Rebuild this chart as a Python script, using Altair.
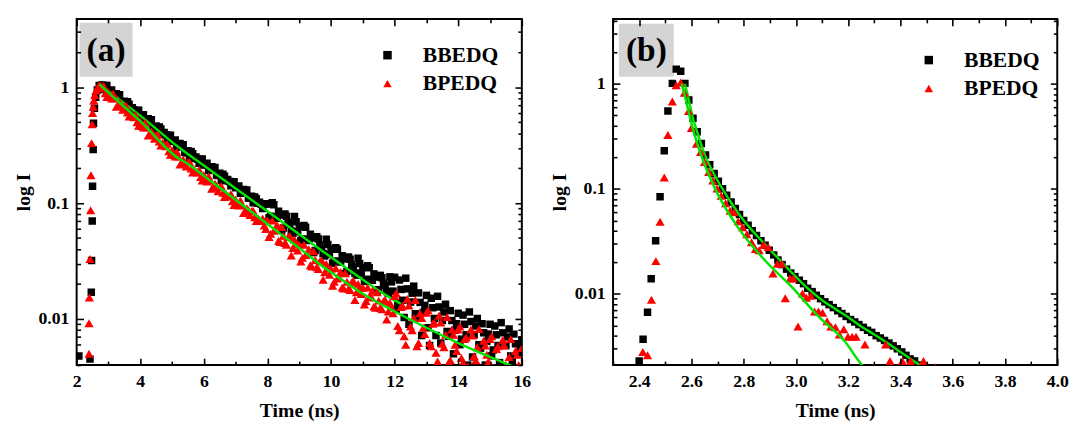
import altair as alt
import pandas as pd

# ---------------- panel (a) data ----------------
a_rise_bb_t = [2.07, 2.42, 2.46, 2.47, 2.49, 2.50, 2.52, 2.53, 2.56, 2.60, 2.65, 2.71]
a_rise_bb_i = [0.0048, 0.0045, 0.017, 0.032, 0.07, 0.14, 0.29, 0.49, 0.66, 0.82, 0.95, 1.04]
a_rise_bp_t = [2.39, 2.39, 2.40, 2.42, 2.44, 2.45, 2.47, 2.49, 2.50, 2.52, 2.54, 2.57, 2.61, 2.66, 2.71, 2.75]
a_rise_bp_i = [0.005, 0.0092, 0.0153, 0.033, 0.087, 0.174, 0.33, 0.48, 0.60, 0.68, 0.77, 0.86, 0.94, 1.0, 1.04, 1.03]

a_t = [2.8, 2.9, 3.0, 3.1, 3.2, 3.3, 3.4, 3.5, 3.6, 3.7,
       3.8, 3.9, 4.0, 4.1, 4.2, 4.3, 4.4, 4.5, 4.6, 4.7,
       4.8, 4.9, 5.0, 5.1, 5.2, 5.3, 5.4, 5.5, 5.6, 5.7,
       5.8, 5.9, 6.0, 6.1, 6.2, 6.3, 6.4, 6.5, 6.6, 6.7,
       6.8, 6.9, 7.0, 7.1, 7.2, 7.3, 7.4, 7.5, 7.6, 7.7,
       7.8, 7.9, 8.0, 8.1, 8.2, 8.3, 8.4, 8.5, 8.6, 8.7,
       8.8, 8.9, 9.0, 9.1, 9.2, 9.3, 9.4, 9.5, 9.6, 9.7,
       9.8, 9.9, 10.0, 10.1, 10.2, 10.3, 10.4, 10.5, 10.6, 10.7,
       10.8, 10.9, 11.0, 11.1, 11.2, 11.3, 11.4, 11.5, 11.6, 11.7,
       11.8, 11.9, 12.0, 12.1, 12.2, 12.3, 12.4, 12.5, 12.6, 12.7,
       12.8, 12.9, 13.0, 13.1, 13.2, 13.3, 13.4, 13.5, 13.6, 13.7,
       13.8, 13.9, 14.0, 14.1, 14.2, 14.3, 14.4, 14.5, 14.6, 14.7,
       14.8, 14.9, 15.0, 15.1, 15.2, 15.3, 15.4, 15.5, 15.6, 15.7,
       15.8, 15.9, 16.0]
a_t2 = [2.85, 2.95, 3.05, 3.15, 3.25, 3.35, 3.45, 3.55, 3.65, 3.75,
        3.85, 3.95, 4.05, 4.15, 4.25, 4.35, 4.45, 4.55, 4.65, 4.75,
        4.85, 4.95, 5.05, 5.15, 5.25, 5.35, 5.45, 5.55, 5.65, 5.75,
        5.85, 5.95, 6.05, 6.15, 6.25, 6.35, 6.45, 6.55, 6.65, 6.75,
        6.85, 6.95, 7.05, 7.15, 7.25, 7.35, 7.45, 7.55, 7.65, 7.75,
        7.85, 7.95, 8.05, 8.15, 8.25, 8.35, 8.45, 8.55, 8.65, 8.75,
        8.85, 8.95, 9.05, 9.15, 9.25, 9.35, 9.45, 9.55, 9.65, 9.75,
        9.85, 9.95, 10.05, 10.15, 10.25, 10.35, 10.45, 10.55, 10.65, 10.75,
        10.85, 10.95, 11.05, 11.15, 11.25, 11.35, 11.45, 11.55, 11.65, 11.75,
        11.85, 11.95, 12.05, 12.15, 12.25, 12.35, 12.45, 12.55, 12.65, 12.75,
        12.85, 12.95, 13.05, 13.15, 13.25, 13.35, 13.45, 13.55, 13.65, 13.75,
        13.85, 13.95, 14.05, 14.15, 14.25, 14.35, 14.45, 14.55, 14.65, 14.75,
        14.85, 14.95, 15.05, 15.15, 15.25, 15.35, 15.45, 15.55, 15.65, 15.75,
        15.85, 15.95]

a_bb = [1.05, 1.04, 0.92, 0.95, 0.84, 0.83, 0.74, 0.76, 0.75, 0.65,
        0.64, 0.63, 0.56, 0.58, 0.51, 0.51, 0.45, 0.465, 0.455, 0.397,
        0.389, 0.385, 0.341, 0.352, 0.313, 0.310, 0.275, 0.283, 0.279, 0.243,
        0.240, 0.239, 0.213, 0.221, 0.197, 0.196, 0.175, 0.181, 0.178, 0.156,
        0.154, 0.153, 0.136, 0.141, 0.125, 0.125, 0.111, 0.115, 0.113, 0.100,
        0.098, 0.098, 0.099, 0.077, 0.097, 0.074, 0.079, 0.061, 0.077, 0.066,
        0.055, 0.069, 0.063, 0.049, 0.062, 0.0475, 0.050, 0.039, 0.049, 0.0417,
        0.035, 0.044, 0.040, 0.0316, 0.040, 0.031, 0.033, 0.0258, 0.0328, 0.0282,
        0.0239, 0.0301, 0.0278, 0.022, 0.0277, 0.0216, 0.023, 0.0179, 0.0227, 0.0196,
        0.0166, 0.0209, 0.0229, 0.0136, 0.018, 0.0103, 0.0182, 0.014, 0.0192, 0.0103,
        0.0139, 0.0114, 0.016, 0.0059, 0.0125, 0.0072, 0.0127, 0.0097, 0.0134, 0.0071,
        0.0097, 0.008, 0.0112, 0.0067, 0.009, 0.004, 0.0095, 0.0073, 0.0101, 0.0056,
        0.0076, 0.0064, 0.009, 0.0054, 0.0073, 0.0042, 0.0076, 0.0059, 0.0082, 0.0044,
        0.0061, 0.0051, 0.0066]
a_bb2 = [0.96, 1.04, 0.925, 0.819, 0.880, 0.862, 0.729, 0.664, 0.716, 0.668,
         0.585, 0.633, 0.564, 0.499, 0.537, 0.525, 0.444, 0.405, 0.436, 0.407,
         0.357, 0.386, 0.343, 0.304, 0.327, 0.320, 0.271, 0.247, 0.267, 0.251,
         0.221, 0.241, 0.215, 0.191, 0.206, 0.203, 0.173, 0.158, 0.171, 0.160,
         0.141, 0.153, 0.137, 0.122, 0.131, 0.130, 0.110, 0.101, 0.109, 0.102,
         0.090, 0.098, 0.075, 0.101, 0.076, 0.085, 0.058, 0.0805, 0.068, 0.0576,
         0.0769, 0.0567, 0.0476, 0.0642, 0.0485, 0.0539, 0.0374, 0.0514, 0.0436, 0.0367,
         0.0488, 0.0361, 0.0303, 0.0413, 0.0315, 0.0352, 0.0247, 0.0343, 0.0293, 0.0249,
         0.0334, 0.0249, 0.0211, 0.0288, 0.0219, 0.0245, 0.0172, 0.0238, 0.0204, 0.0173,
         0.0231, 0.0174, 0.0121, 0.0217, 0.0145, 0.0225, 0.009, 0.0167, 0.0111, 0.0168,
         0.0072, 0.0131, 0.0084, 0.0151, 0.0101, 0.0157, 0.0062, 0.0115, 0.0078, 0.0118,
         0.005, 0.0091, 0.006, 0.0108, 0.0073, 0.0115, 0.0047, 0.0087, 0.006, 0.0091,
         0.004, 0.0074, 0.0048, 0.0087, 0.0059, 0.0093, 0.0038, 0.007, 0.0048, 0.0074,
         0.0031, 0.0059]

a_bp = [0.980, 0.888, 0.908, 0.800, 0.802, 0.698, 0.708, 0.688, 0.607, 0.590,
        0.551, 0.500, 0.511, 0.450, 0.451, 0.393, 0.398, 0.387, 0.341, 0.332,
        0.310, 0.281, 0.287, 0.253, 0.253, 0.222, 0.227, 0.224, 0.199, 0.195,
        0.184, 0.168, 0.174, 0.154, 0.157, 0.138, 0.141, 0.138, 0.123, 0.120,
        0.114, 0.104, 0.107, 0.0954, 0.0964, 0.0847, 0.0867, 0.0851, 0.0757, 0.0742,
        0.0701, 0.064, 0.0712, 0.0545, 0.0577, 0.0649, 0.0461, 0.0524, 0.0438, 0.0521,
        0.041, 0.0445, 0.0439, 0.0337, 0.0356, 0.040, 0.0284, 0.0323, 0.027, 0.0322,
        0.0253, 0.0274, 0.0271, 0.021, 0.0224, 0.0255, 0.0183, 0.021, 0.0178, 0.0214,
        0.017, 0.0186, 0.0186, 0.0143, 0.0153, 0.0175, 0.0125, 0.0144, 0.0121, 0.0146,
        0.0116, 0.0127, 0.0158, 0.0087, 0.0127, 0.0071, 0.0149, 0.0086, 0.0102, 0.0058,
        0.0112, 0.0084, 0.0113, 0.0062, 0.0091, 0.0051, 0.0107, 0.0061, 0.0073, 0.0042,
        0.0081, 0.0060, 0.0081, 0.0046, 0.0067, 0.0039, 0.0081, 0.0048, 0.0057, 0.0033,
        0.0065, 0.0049, 0.0067, 0.0038, 0.0055, 0.0032, 0.0066, 0.0040, 0.0047, 0.0027,
        0.0053, 0.0040, 0.0056]
a_bp2 = [1.03, 0.827, 0.824, 0.882, 0.681, 0.743, 0.640, 0.694, 0.559, 0.567,
         0.578, 0.466, 0.463, 0.496, 0.383, 0.418, 0.360, 0.390, 0.314, 0.319,
         0.325, 0.262, 0.260, 0.278, 0.216, 0.237, 0.207, 0.227, 0.184, 0.188,
         0.194, 0.157, 0.158, 0.171, 0.133, 0.147, 0.127, 0.140, 0.113, 0.116,
         0.120, 0.0966, 0.098, 0.1055, 0.0823, 0.0906, 0.0789, 0.0862, 0.070, 0.0718,
         0.0739, 0.0599, 0.0509, 0.0709, 0.0591, 0.0473, 0.0623, 0.0453, 0.051, 0.0354,
         0.0485, 0.039, 0.0314, 0.0438, 0.0364, 0.0291, 0.0384, 0.0279, 0.0315, 0.0218,
         0.0299, 0.0241, 0.0194, 0.0274, 0.0231, 0.0187, 0.0249, 0.0182, 0.0208, 0.0146,
         0.0201, 0.0164, 0.0133, 0.0187, 0.0158, 0.0128, 0.017, 0.0125, 0.0142, 0.0099,
         0.0138, 0.0112, 0.0167, 0.008, 0.013, 0.006, 0.0131, 0.008, 0.0146, 0.0062,
         0.0102, 0.0074, 0.0119, 0.0058, 0.0093, 0.0043, 0.0093, 0.0057, 0.0104, 0.0044,
         0.0073, 0.0053, 0.0086, 0.0042, 0.0069, 0.0032, 0.0072, 0.0044, 0.0082, 0.0035,
         0.0059, 0.0043, 0.0071, 0.0035, 0.0058, 0.0027, 0.0059, 0.0037, 0.0067, 0.0029,
         0.0049, 0.0036]

a_fit1_t = [2.75, 3.0, 4.0, 5.2, 6.0, 7.0, 8.0, 9.0, 9.85, 10.37, 11.0, 11.8, 12.2]
a_fit1_i = [1.06, 0.93, 0.57, 0.305, 0.211, 0.134, 0.085, 0.054, 0.0365, 0.029, 0.0218, 0.0156, 0.0135]
a_fit2_t = [2.72, 3.0, 4.0, 5.2, 5.5, 6.0, 7.0, 8.0, 9.0, 9.85, 10.26, 11.0, 12.0, 13.0, 14.0, 15.0, 15.8]
a_fit2_i = [1.06, 0.90, 0.51, 0.244, 0.218, 0.172, 0.107, 0.066, 0.041, 0.027, 0.0226, 0.0165, 0.0116, 0.0084, 0.0062, 0.0047, 0.0038]

# ---------------- panel (b) data ----------------
b_bb_t = [2.400, 2.415, 2.432, 2.446, 2.463, 2.480, 2.496, 2.510, 2.527, 2.542, 2.559,
          2.575, 2.590, 2.606, 2.622, 2.638, 2.654, 2.670, 2.687, 2.703, 2.719,
          2.735, 2.752, 2.768, 2.784, 2.800, 2.817, 2.833, 2.849, 2.866, 2.882,
          2.898, 2.915, 2.931, 2.947, 2.964, 2.980, 2.996, 3.013, 3.029, 3.045,
          3.062, 3.078, 3.094, 3.111, 3.127, 3.143, 3.160, 3.176, 3.192, 3.209,
          3.225, 3.241, 3.258, 3.274, 3.290, 3.307, 3.323, 3.339, 3.356, 3.372,
          3.388, 3.405, 3.421, 3.437, 3.454, 3.470, 3.486, 3.503]
b_bb_i = [0.0023, 0.0037, 0.0067, 0.0139, 0.032, 0.084, 0.23, 0.55, 1.01, 1.38, 1.32,
          1.01, 0.70, 0.47, 0.35, 0.27, 0.21, 0.17, 0.14, 0.118, 0.10,
          0.087, 0.075, 0.065, 0.057, 0.050, 0.045, 0.040, 0.036, 0.032, 0.029,
          0.026, 0.0235, 0.021, 0.019, 0.0172, 0.0158, 0.0146, 0.0135, 0.0125, 0.0113,
          0.0105, 0.0097, 0.0090, 0.0084, 0.0079, 0.0074, 0.0069, 0.0065, 0.0061, 0.0057,
          0.0054, 0.0051, 0.0048, 0.0045, 0.0043, 0.0040, 0.0038, 0.0036, 0.0034, 0.0032,
          0.0030, 0.0028, 0.0026, 0.0024, 0.0023, 0.0021, 0.0020, 0.0019]

b_bp_t = [2.414, 2.432, 2.447, 2.464, 2.480, 2.496, 2.510, 2.527, 2.542, 2.559,
          2.573, 2.589, 2.600, 2.619, 2.635, 2.650, 2.666, 2.682, 2.698, 2.714,
          2.731, 2.748, 2.763, 2.779, 2.796, 2.812, 2.830, 2.845, 2.859, 2.876,
          2.894, 2.912, 2.929, 2.945, 2.959, 2.977, 2.990, 3.008, 3.025, 3.040,
          3.057, 3.071, 3.086, 3.102, 3.119, 3.134, 3.151, 3.166, 3.183, 3.199,
          3.215, 3.230, 3.264, 3.296, 3.343, 3.360, 3.407, 3.439, 3.488, 3.533]
b_bp_i = [0.0028, 0.0026, 0.0088, 0.0205, 0.0487, 0.128, 0.325, 0.68, 0.97, 1.03,
          0.82, 0.55, 0.38, 0.268, 0.224, 0.18, 0.145, 0.12, 0.101, 0.086,
          0.073, 0.062, 0.060, 0.049, 0.043, 0.037, 0.031, 0.0268, 0.026, 0.0294,
          0.028, 0.0156, 0.0194, 0.0194, 0.0091, 0.014, 0.014, 0.0049, 0.0101, 0.0092,
          0.0096, 0.0068, 0.0068, 0.0066, 0.0055, 0.0049, 0.0048, 0.0041, 0.0046, 0.0039,
          0.0039, 0.0039, 0.0033, 0.0020, 0.0033, 0.0023, 0.0023, 0.0023, 0.0023, 0.0020]

b_fit1_t = [2.575, 2.590, 2.605, 2.620, 2.650, 2.700, 2.750, 2.800, 2.850, 2.900, 2.950,
            3.000, 3.050, 3.100, 3.150, 3.200, 3.250, 3.300, 3.350, 3.400, 3.450, 3.490]
b_fit1_i = [1.0, 0.70, 0.48, 0.36, 0.215, 0.12, 0.075, 0.05, 0.036, 0.0265, 0.0195,
            0.0145, 0.011, 0.0087, 0.0072, 0.006, 0.0049, 0.0041, 0.0034, 0.0028, 0.0023, 0.0020]
b_fit2_t = [2.563, 2.580, 2.600, 2.637, 2.700, 2.778, 2.880, 2.983, 3.086, 3.188, 3.253, 3.270]
b_fit2_i = [1.0, 0.68, 0.42, 0.21, 0.09, 0.043, 0.021, 0.0117, 0.0061, 0.0035, 0.0021, 0.0019]

series = ["BBEDQ", "BPEDQ"]

# ---------------- tick values / labels ----------------
a_x_labels = [2, 4, 6, 8, 10, 12, 14, 16]
a_x_ticks = [2, 3, 4, 5, 6, 7, 8, 9, 10, 11, 12, 13, 14, 15, 16]
a_y_ticks = [0.004, 0.005, 0.006, 0.007, 0.008, 0.009,
             0.01, 0.02, 0.03, 0.04, 0.05, 0.06, 0.07, 0.08, 0.09,
             0.1, 0.2, 0.3, 0.4, 0.5, 0.6, 0.7, 0.8, 0.9, 1, 2, 3]
b_x_labels = [2.4, 2.6, 2.8, 3.0, 3.2, 3.4, 3.6, 3.8, 4.0]
b_x_ticks = [2.3, 2.4, 2.5, 2.6, 2.7, 2.8, 2.9, 3.0, 3.1, 3.2, 3.3, 3.4, 3.5, 3.6, 3.7, 3.8, 3.9, 4.0]
b_y_ticks = [0.003, 0.004, 0.005, 0.006, 0.007, 0.008, 0.009,
             0.01, 0.02, 0.03, 0.04, 0.05, 0.06, 0.07, 0.08, 0.09,
             0.1, 0.2, 0.3, 0.4, 0.5, 0.6, 0.7, 0.8, 0.9, 1, 2, 3, 4]
y_labels = [0.01, 0.1, 1]

FONT = "Liberation Serif"
GREEN = "#00e400"
LOG_MAJOR = "abs(log(datum.value)/LN10 - round(log(datum.value)/LN10)) < 0.001"


def panel(bb_t, bb_i, bp_t, bp_i, f1_t, f1_i, f2_t, f2_i, xdom, ydom,
          xlabels, xfmt, xticks, xmajor, yticks, W, H, leg_x, leg_y, tag, box, spacer):
    df_bb = pd.DataFrame({"t": bb_t, "I": bb_i, "s": series[0]})
    df_bp = pd.DataFrame({"t": bp_t, "I": bp_i, "s": series[1]})
    df_f1 = pd.DataFrame({"t": f1_t, "I": f1_i})
    df_f2 = pd.DataFrame({"t": f2_t, "I": f2_i})
    df_tag = pd.DataFrame({"tag": [tag]})

    xs = alt.Scale(domain=xdom, nice=False, zero=False)
    ys = alt.Scale(type="log", domain=ydom, nice=False)
    cs = alt.Scale(domain=series, range=["#000000", "#ff0000"])
    ss = alt.Scale(domain=series, range=["square", "triangle-up"])
    leg = alt.Legend(orient="none", legendX=leg_x, legendY=leg_y, title=None,
                     labelFont=FONT, labelFontSize=22, labelFontWeight="bold",
                     labelColor="black", symbolSize=75, symbolStrokeWidth=0,
                     rowPadding=7, labelOffset=25, padding=0)

    ax_x = alt.Axis(values=xlabels, format=xfmt, ticks=False, domain=False, grid=False,
                    labelPadding=8, title="Time (ns)", titlePadding=10, labelFlush=False)
    ax_y = alt.Axis(values=y_labels, format=".2~f", ticks=False, domain=False, grid=False,
                    labelPadding=8, title="log I", titlePadding=5)
    xtick = {"condition": {"test": xmajor, "value": 7}, "value": 4}
    ytick = {"condition": {"test": LOG_MAJOR, "value": 7}, "value": 4}
    common = dict(labels=False, domain=False, grid=False, title=None,
                  tickWidth=1.6, tickColor="black", zindex=2)
    ax_in_b = alt.Axis(orient="top", offset=-H, values=xticks, tickSize=xtick, **common)
    ax_in_t = alt.Axis(orient="bottom", offset=-H, values=xticks, tickSize=xtick, **common)
    ax_in_l = alt.Axis(orient="right", offset=-W, values=yticks, tickSize=ytick, **common)
    ax_in_r = alt.Axis(orient="left", offset=-W, values=yticks, tickSize=ytick, **common)

    boxl = alt.Chart(df_tag).mark_rect(color="#d4d4d4").encode(
        x=alt.value(box[0]), x2=alt.value(box[1]), y=alt.value(box[2]), y2=alt.value(box[3]))
    txt = alt.Chart(df_tag).mark_text(font=FONT, fontSize=34, fontWeight="bold",
                                      color="black", baseline="middle").encode(
        x=alt.value((box[0] + box[1]) / 2), y=alt.value((box[2] + box[3]) / 2 + 1), text="tag:N")

    pts_bb = alt.Chart(df_bb).mark_point(filled=True, size=58, opacity=1, clip=True).encode(
        x=alt.X("t:Q", scale=xs, axis=ax_x),
        y=alt.Y("I:Q", scale=ys, axis=ax_y),
        color=alt.Color("s:N", scale=cs, legend=leg),
        shape=alt.Shape("s:N", scale=ss, legend=leg))
    fit1 = alt.Chart(df_f1).mark_line(color=GREEN, strokeWidth=2.5, clip=True,
                                      interpolate="monotone").encode(
        x=alt.X("t:Q", scale=xs, axis=ax_in_b),
        y=alt.Y("I:Q", scale=ys, axis=ax_in_l))
    pts_bp = alt.Chart(df_bp).mark_point(filled=True, size=88, opacity=1, clip=True).encode(
        x=alt.X("t:Q", scale=xs, axis=ax_in_t),
        y=alt.Y("I:Q", scale=ys, axis=ax_in_r),
        color=alt.Color("s:N", scale=cs, legend=leg),
        shape=alt.Shape("s:N", scale=ss, legend=leg))
    fit2 = alt.Chart(df_f2).mark_line(color=GREEN, strokeWidth=2.5, clip=True,
                                      interpolate="monotone").encode(
        x=alt.X("t:Q", scale=xs, axis=None),
        y=alt.Y("I:Q", scale=ys, axis=None))

    props = dict(width=W, height=H)
    if spacer:
        props["title"] = alt.TitleParams(text=" ", fontSize=2, offset=spacer)
    return alt.layer(boxl, txt, pts_bb, fit1, pts_bp, fit2).resolve_axis(
        x="independent", y="independent").properties(**props)


H = 353
pa = panel(a_rise_bb_t + a_t + a_t2, a_rise_bb_i + a_bb + a_bb2,
           a_rise_bp_t + a_t + a_t2, a_rise_bp_i + a_bp + a_bp2,
           a_fit1_t, a_fit1_i, a_fit2_t, a_fit2_i, [2, 16], [0.004, 3.9],
           a_x_labels, "d", a_x_ticks, "datum.value % 2 == 0", a_y_ticks, 454, H,
           306, 26, "(a)", [3, 57, 4, 59], 2)
pb = panel(b_bb_t, b_bb_i, b_bp_t, b_bp_i, b_fit1_t, b_fit1_i, b_fit2_t, b_fit2_i,
           [2.3, 4.0], [0.0021, 4.15],
           b_x_labels, ".1f", b_x_ticks, "round(datum.value*10) % 2 == 0", b_y_ticks, 453, H,
           311, 31, "(b)", [6, 62, 5, 59], 0)

chart = alt.hconcat(pa, pb, spacing=17).resolve_scale(
    color="independent", shape="independent").properties(
    padding={"left": 4, "top": 1, "right": 0, "bottom": 0}).configure_view(
    stroke="black", strokeWidth=2).configure_axis(
    labelFont=FONT, titleFont=FONT, labelFontWeight="bold", titleFontWeight="bold",
    labelFontSize=18, titleFontSize=20, labelColor="black", titleColor="black")

chart.save("out.html", embed_options={"renderer": "svg", "actions": False})
